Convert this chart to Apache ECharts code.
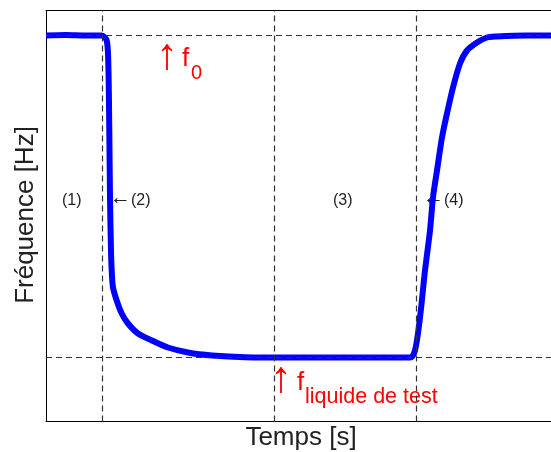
<!DOCTYPE html>
<html>
<head>
<meta charset="utf-8">
<script src="https://cdn.jsdelivr.net/npm/echarts@6/dist/echarts.min.js"></script>
<style>html,body{margin:0;padding:0;background:#fff;}#c{width:551px;height:452px;}</style>
</head>
<body>
<div id="c"></div>
<script>
// Time (arbitrary units) and frequency (arbitrary units)
var timeValues = [0, 20, 40, 55.7, 60.7, 62.3, 63.3, 64, 65, 65.7, 67, 70.7, 75.7, 82, 92, 106, 122, 142, 166, 199, 250, 300, 364, 369, 374, 379, 384, 387, 391, 396, 401, 407, 414, 421, 431, 441, 451, 480, 505];
var freqValues = [386, 386.5, 386, 386, 381, 358, 291, 224, 171, 151, 134, 121, 108, 98, 88, 81, 74, 69, 66, 64.3, 64, 64, 64, 71, 104, 151, 191, 224, 251, 284, 308, 334, 358, 371, 379, 384, 385, 386, 386];
var phaseBounds = [56, 228, 370];     // vertical dashed lines
var levelLines = [386, 64];           // f0 and f_liquide
var phaseLabels = ['(1)', '(2)', '(3)', '(4)'];

var font = '"Liberation Sans", Arial, Helvetica, sans-serif';
var chart = echarts.init(document.getElementById('c'), null, {renderer: 'canvas'});
var seriesData = timeValues.map(function (t, i) { return [t, freqValues[i]]; });

var markData = phaseBounds.map(function (v) { return {xAxis: v}; })
  .concat(levelLines.map(function (v) { return {yAxis: v}; }));

var axisLineStyle = {show: true, onZero: false, lineStyle: {color: '#000', width: 1}};
function hiddenAxis(extra) {
  return Object.assign({type: 'value', axisTick: {show: false}, axisLabel: {show: false}, splitLine: {show: false}}, extra);
}

var red = '#ff0000';
var dark = '#222';
var arrowRich = {a: {font: '21px ' + font, fill: dark, padding: [0, 0, 5, 0]}};
chart.setOption({
  animation: false,
  backgroundColor: '#fff',
  grid: {left: 46, top: 10.5, right: 0, height: 411, show: false},
  xAxis: [
    hiddenAxis({min: 0, max: 505, position: 'bottom', axisLine: axisLineStyle}),
    hiddenAxis({min: 0, max: 505, position: 'top', axisLine: axisLineStyle})
  ],
  yAxis: hiddenAxis({min: 0, max: 411, position: 'left', axisLine: axisLineStyle}),
  series: [{
    type: 'line',
    data: seriesData,
    showSymbol: false,
    smooth: 0.3,
    lineStyle: {color: '#0000ff', width: 6},
    z: 3,
    markLine: {
      silent: true,
      symbol: ['none', 'none'],
      label: {show: false},
      lineStyle: {color: '#333', width: 1.2, type: [6, 4]},
      data: markData,
      z: 4
    }
  }],
  graphic: [
    {type: 'text', x: 26, y: 215, rotation: Math.PI / 2, style: {text: 'Fréquence [Hz]', font: '26px ' + font, fill: dark, align: 'center', verticalAlign: 'middle'}},
    {type: 'text', x: 301, y: 438, style: {text: 'Temps [s]', font: '26px ' + font, fill: dark, align: 'center', verticalAlign: 'middle'}},
    {type: 'text', x: 167, y: 57, style: {text: '\u2191', font: '44px ' + font, fill: red, align: 'center', verticalAlign: 'middle'}},
    {type: 'text', x: 182, y: 59, style: {text: 'f', font: '26px ' + font, fill: red, align: 'left', verticalAlign: 'middle'}},
    {type: 'text', x: 191, y: 73, style: {text: '0', font: '20px ' + font, fill: red, align: 'left', verticalAlign: 'middle'}},
    {type: 'text', x: 281, y: 380, style: {text: '\u2191', font: '44px ' + font, fill: red, align: 'center', verticalAlign: 'middle'}},
    {type: 'text', x: 297, y: 383, style: {text: 'f', font: '26px ' + font, fill: red, align: 'left', verticalAlign: 'middle'}},
    {type: 'text', x: 305, y: 397, style: {text: 'liquide de test', font: '21.5px ' + font, fill: red, align: 'left', verticalAlign: 'middle'}},
    {type: 'text', x: 62, y: 201, style: {text: phaseLabels[0], font: '16px ' + font, fill: dark, align: 'left', verticalAlign: 'middle'}},
    {type: 'text', x: 110, y: 201, style: {text: '{a|\u2190}' + phaseLabels[1], font: '16px ' + font, fill: dark, align: 'left', verticalAlign: 'middle', rich: arrowRich}},
    {type: 'text', x: 333, y: 201, style: {text: phaseLabels[2], font: '16px ' + font, fill: dark, align: 'left', verticalAlign: 'middle'}},
    {type: 'text', x: 423, y: 201, style: {text: '{a|\u2190}' + phaseLabels[3], font: '16px ' + font, fill: dark, align: 'left', verticalAlign: 'middle', rich: arrowRich}}
  ]
});
</script>
</body>
</html>
